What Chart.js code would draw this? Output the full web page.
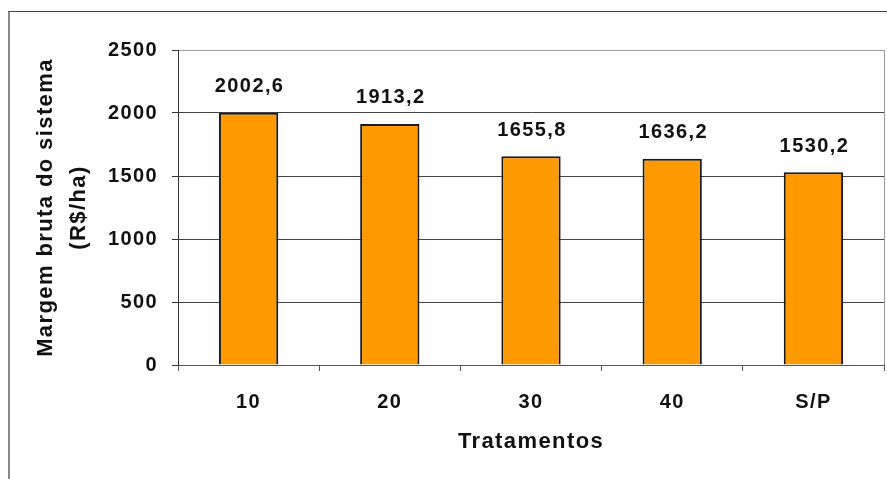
<!DOCTYPE html>
<html>
<head>
<meta charset="utf-8">
<script src="https://cdn.jsdelivr.net/npm/chart.js@4/dist/chart.umd.min.js"></script>
<style>
  html, body { margin: 0; padding: 0; background: #ffffff; }
  #wrap { position: relative; width: 887px; height: 479px; overflow: hidden; }
  /* outer slide frame: dark line on top, grey line on the left */
  #frame {
    position: absolute; left: 8px; top: 11px; right: 0; bottom: -2px;
    border-top: 1px solid #444444; border-left: 2px solid #8a8a8a;
  }
  #chart { position: absolute; left: 0; top: 0; }
</style>
</head>
<body>
<div id="wrap">
  <div id="frame"></div>
  <canvas id="chart" width="887" height="479"></canvas>
</div>
<script>
// Margem bruta do sistema (R$/ha) per tratamento
const categories = ['10', '20', '30', '40', 'S/P'];
const margins = [2002.6, 1913.2, 1655.8, 1636.2, 1530.2];
const yMin = 0;
const yMax = 2500;
const yStep = 500;

const FONT = '"Liberation Sans", Arial, sans-serif';
const SPACING = '1.4px'; // the original text is set quite loose

// Portuguese decimal comma, as on the original
function fmt(v) {
  return v.toFixed(1).replace('.', ',');
}

// loose letter spacing for every text drawn on the canvas
const looseText = {
  id: 'looseText',
  beforeInit(chart) {
    chart.ctx.letterSpacing = SPACING;
  },
  beforeDraw(chart) {
    chart.ctx.letterSpacing = SPACING;
  }
};

// value labels above each bar
const valueLabels = {
  id: 'valueLabels',
  afterDatasetsDraw(chart) {
    const ctx = chart.ctx;
    const meta = chart.getDatasetMeta(0);
    ctx.save();
    ctx.font = 'bold 20px ' + FONT;
    ctx.fillStyle = '#111111';
    ctx.textAlign = 'center';
    ctx.textBaseline = 'middle';
    meta.data.forEach((bar, i) => {
      ctx.fillText(fmt(margins[i]), bar.x + 1, bar.y - 26);
    });
    ctx.restore();
  }
};

// grey right edge of the plot area
const plotFrame = {
  id: 'plotFrame',
  afterDraw(chart) {
    const { ctx, chartArea } = chart;
    ctx.save();
    ctx.strokeStyle = '#999999';
    ctx.lineWidth = 1;
    ctx.beginPath();
    ctx.moveTo(chartArea.right + 0.5, chartArea.top);
    ctx.lineTo(chartArea.right + 0.5, chartArea.bottom);
    ctx.stroke();
    ctx.restore();
  }
};

new Chart(document.getElementById('chart'), {
  type: 'bar',
  data: {
    labels: categories,
    datasets: [
      {
        data: margins,
        backgroundColor: '#ff9900',
        borderColor: '#1a1a1a',
        borderWidth: 2,
        categoryPercentage: 1,
        barPercentage: 0.42
      }
    ]
  },
  options: {
    responsive: false,
    devicePixelRatio: 1,
    animation: false,
    layout: { padding: { left: 0, top: 50, right: 3, bottom: 0 } },
    plugins: {
      legend: { display: false },
      tooltip: { enabled: false }
    },
    scales: {
      x: {
        grid: {
          display: true,
          drawOnChartArea: false,
          drawTicks: true,
          tickLength: 6,
          tickColor: '#555555'
        },
        border: { display: true, color: '#555555', width: 1 },
        ticks: {
          color: '#111111',
          font: { family: FONT, size: 20, weight: 'bold' },
          padding: 19
        },
        title: {
          display: true,
          text: 'Tratamentos',
          color: '#111111',
          font: { family: FONT, size: 22, weight: 'bold' },
          padding: { top: 0, bottom: 24 }
        },
        afterFit(scale) {
          scale.height = 114;
        }
      },
      y: {
        min: yMin,
        max: yMax,
        ticks: {
          stepSize: yStep,
          color: '#111111',
          font: { family: FONT, size: 20, weight: 'bold' },
          padding: 14,
          callback: (v) => String(v)
        },
        grid: {
          color: (c) => (c.tick && c.tick.value === yMax ? '#999999' : '#444444'),
          tickColor: '#333333',
          tickLength: 6,
          lineWidth: 1
        },
        border: { display: true, color: '#333333', width: 1 },
        title: {
          display: true,
          text: ['Margem bruta do sistema', '(R$/ha)'],
          color: '#111111',
          font: { family: FONT, size: 22, weight: 'bold', lineHeight: '33px' },
          padding: { top: 29.5, bottom: 0 }
        },
        afterFit(scale) {
          scale.width = 178;
        }
      }
    }
  },
  plugins: [looseText, valueLabels, plotFrame]
});
</script>
</body>
</html>
